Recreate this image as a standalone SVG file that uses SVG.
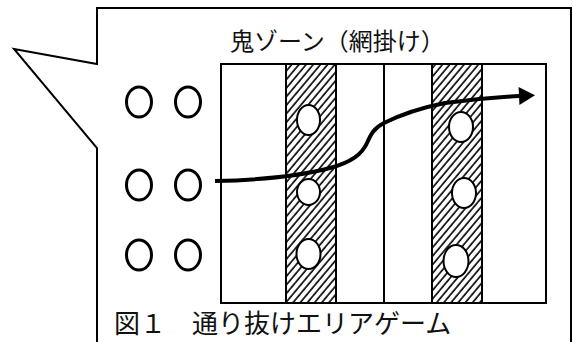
<svg xmlns="http://www.w3.org/2000/svg" width="573" height="342" viewBox="0 0 573 342">
<style>
.ln{fill:none;stroke:#000;stroke-width:2}
.pc{fill:#fff;stroke:#000;stroke-width:3}
.ob{fill:#fff;stroke:#000;stroke-width:2}
.t{font-family:"Noto Sans CJK JP","Noto Sans",sans-serif;fill:#111}
</style>
<defs>
<pattern id="hatch" patternUnits="userSpaceOnUse" width="5.5" height="5.5" patternTransform="rotate(40)">
<rect width="5.5" height="5.5" fill="#fff"/>
<line x1="1" y1="0" x2="1" y2="5.5" stroke="#000" stroke-width="1.6"/>
</pattern>
<marker id="ah" markerUnits="userSpaceOnUse" markerWidth="18" markerHeight="20" refX="1" refY="9" orient="auto" overflow="visible">
<path d="M0,0 L16,9 L0,18 Z" fill="#000"/>
</marker>
</defs>
<rect width="573" height="342" fill="#fff"/>
<g id="callout">
<path class="ln" d="M97,342 L97,148 L14,49 L97,64 L97,8 L571,8 L571,342"/>
</g>
<g id="title"><text class="t" x="230" y="50" font-size="24">鬼ゾーン（網掛け）</text></g>
<g id="players">
<ellipse class="pc" cx="139" cy="102" rx="12.5" ry="15"/>
<ellipse class="pc" cx="188" cy="102" rx="12.5" ry="15"/>
<ellipse class="pc" cx="139" cy="185" rx="12.5" ry="15"/>
<ellipse class="pc" cx="188" cy="185" rx="12.5" ry="15"/>
<ellipse class="pc" cx="139" cy="255" rx="12.5" ry="15"/>
<ellipse class="pc" cx="188" cy="255" rx="12.5" ry="15"/>
</g>
<g id="field">
<rect x="286" y="64" width="50" height="239" fill="url(#hatch)"/>
<rect x="432" y="64" width="50" height="239" fill="url(#hatch)"/>
<rect class="ln" x="221" y="64" width="325" height="239" stroke-width="2.5"/>
<line class="ln" x1="286" y1="64" x2="286" y2="303"/>
<line class="ln" x1="336" y1="64" x2="336" y2="303"/>
<line class="ln" x1="384" y1="64" x2="384" y2="303"/>
<line class="ln" x1="432" y1="64" x2="432" y2="303"/>
<line class="ln" x1="482" y1="64" x2="482" y2="303"/>
</g>
<g id="oni">
<ellipse class="ob" cx="308.5" cy="120" rx="11.5" ry="15"/>
<ellipse class="ob" cx="308.5" cy="192" rx="11.5" ry="13"/>
<ellipse class="ob" cx="308.5" cy="254" rx="12" ry="15"/>
<ellipse class="ob" cx="461" cy="127" rx="12" ry="15"/>
<ellipse class="ob" cx="464" cy="193" rx="12" ry="15"/>
<ellipse class="ob" cx="456" cy="261" rx="12.5" ry="16"/>
</g>
<g id="connectors">
<path d="M215,181 C260,180 300,176 330,168 C352,162 362,154 367,143 C371,134 374,128 384,123 C400,115 420,108 445,103 C475,99 500,97 520,96" fill="none" stroke="#000" stroke-width="4" marker-end="url(#ah)"/>
</g>
<g id="caption"><text class="t" x="114" y="333" font-size="26">図１　通り抜けエリアゲーム</text></g>
</svg>
